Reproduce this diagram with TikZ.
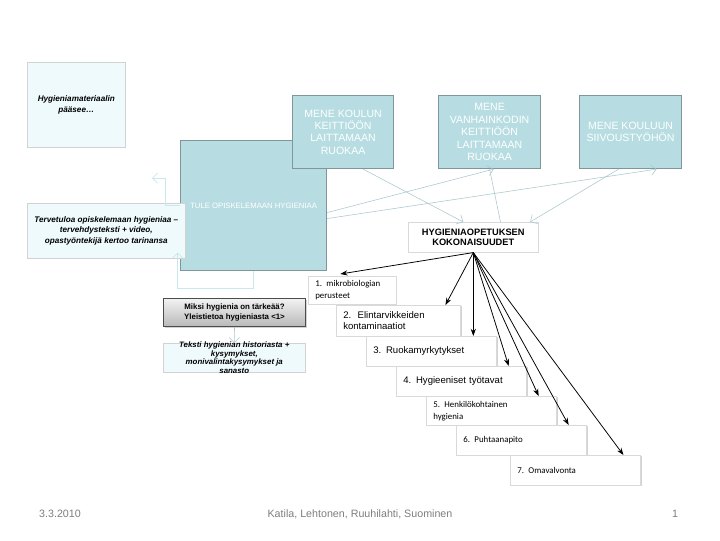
\documentclass[tikz,border=0pt]{standalone}
\usepackage{fontspec}
\setmainfont{Liberation Sans}
\newfontfamily\calibri{Carlito}
\usepackage{xcolor}
\definecolor{tealfill}{RGB}{183,221,226}
\definecolor{tealedge}{RGB}{128,150,155}
\definecolor{palefill}{RGB}{238,250,252}
\definecolor{linkgray}{RGB}{170,200,205}
\definecolor{linkpale}{RGB}{200,232,237}
\definecolor{footgray}{RGB}{125,125,125}
\usetikzlibrary{arrows.meta, positioning, shadows}
\tikzset{
  taskbox/.style={
    rectangle, draw=tealedge, line width=0.8pt, fill=tealfill,
    text=white, align=center, anchor=north west, inner sep=1pt,
    font=\fontsize{7.5}{8.8}\selectfont,
    drop shadow={shadow xshift=0.6pt, shadow yshift=-0.6pt, opacity=0.3}},
  notebox/.style={
    rectangle, draw=gray!35, fill=palefill, align=center,
    anchor=north west, inner sep=1pt,
    font=\fontsize{5.8}{7.6}\selectfont\bfseries\itshape,
    drop shadow={shadow xshift=0.8pt, shadow yshift=-0.8pt, opacity=0.3}},
  whybox/.style={
    rectangle, draw=black!70, line width=0.7pt, top color=gray!10,
    bottom color=gray!55, align=center, anchor=north west,
    font=\fontsize{5.6}{7.2}\selectfont\bfseries,
    drop shadow={shadow xshift=0.8pt, shadow yshift=-0.8pt, opacity=0.35}},
  setbox/.style={
    rectangle, draw=gray!30, fill=white, align=center,
    anchor=north west, inner sep=1pt,
    font=\fontsize{6.6}{7.8}\selectfont\bfseries,
    drop shadow={shadow xshift=0.8pt, shadow yshift=-0.8pt, opacity=0.35}},
  itembox/.style={
    rectangle, draw=gray!30, fill=white, align=left,
    anchor=north west, inner xsep=5pt, inner ysep=1pt,
    font=\fontsize{6.8}{8.2}\selectfont,
    drop shadow={shadow xshift=0.8pt, shadow yshift=-0.8pt, opacity=0.35}},
  cbitem/.style={itembox, font=\calibri\fontsize{6.3}{8.4}\selectfont},
  footer/.style={font=\fontsize{7.6}{9}\selectfont, text=footgray},
  arr/.style={-{Stealth[length=1.8mm, width=1.3mm]}, line width=0.55pt, black},
  linkarr/.style={-{Straight Barb[length=1.3mm]}, line width=0.4pt, linkgray},
  linkline/.style={line width=0.4pt, linkgray},
  palearr/.style={-{Straight Barb[length=1.3mm]}, line width=0.5pt, linkpale},
}

\begin{document}
\begin{tikzpicture}[x=0.025cm, y=-0.025cm]
  \useasboundingbox (0,0) rectangle (720,540);
  % concept boxes
  \node[taskbox, minimum width=3.65cm, minimum height=3.25cm,
        font=\fontsize{5.5}{6.5}\selectfont] (tule) at (180,140)
    {TULE OPISKELEMAAN HYGIENIAA};
  \node[taskbox, minimum width=2.525cm, minimum height=1.825cm] (koulu) at (292,95)
    {MENE KOULUN\\KEITTIÖÖN\\LAITTAMAAN\\RUOKAA};
  \node[taskbox, minimum width=2.55cm, minimum height=1.825cm] (vanhain) at (438,95)
    {MENE\\VANHAINKODIN\\KEITTIÖÖN\\LAITTAMAAN\\RUOKAA};
  \node[taskbox, minimum width=2.55cm, minimum height=1.825cm] (siivous) at (579,95)
    {MENE KOULUUN\\SIIVOUSTYÖHÖN};
  \node[notebox, minimum width=2.45cm, minimum height=2.125cm] (aim) at (27,62)
    {Hygieniamateriaalin\\pääsee…};
  \node[notebox, minimum width=3.95cm, minimum height=1.375cm] (welcome) at (27,203)
    {Tervetuloa opiskelemaan hygieniaa –\\tervehdysteksti + video,\\
     opastyöntekijä kertoo tarinansa};
  \node[whybox, minimum width=3.55cm, minimum height=0.7cm] (why) at (163,298)
    {Miksi hygienia on tärkeää?\\Yleistietoa hygieniasta <1>};
  \node[notebox, minimum width=3.55cm, minimum height=0.725cm, inner ysep=-2pt,
        font=\fontsize{5.6}{6.1}\selectfont\bfseries\itshape] (hist) at (163,343)
    {Teksti hygienian historiasta +\\kysymykset,\\
     monivalintakysymykset ja\\sanasto};
  \node[setbox, minimum width=3.25cm, minimum height=0.75cm] (sets) at (408,222)
    {HYGIENIAOPETUKSEN\\KOKONAISUUDET};
  % the seven parts
  \node[cbitem, text width=1.85cm, minimum height=0.7cm] (item1) at (308,276)
    {1. mikrobiologian\\perusteet};
  \node[itembox, text width=2.75cm, minimum height=0.775cm] (item2) at (336,305)
    {2.\ \ Elintarvikkeiden\\kontaminaatiot};
  \node[itembox, text width=2.9cm, minimum height=0.75cm] (item3) at (366,336)
    {3. Ruokamyrkytykset};
  \node[itembox, text width=2.9cm, minimum height=0.75cm] (item4) at (396,366)
    {4. Hygieeniset työtavat};
  \node[cbitem, text width=2.9cm, minimum height=0.725cm] (item5) at (426,396)
    {5. Henkilökohtainen\\hygienia};
  \node[cbitem, text width=2.9cm, minimum height=0.75cm] (item6) at (456,425)
    {6. Puhtaanapito};
  \node[cbitem, text width=2.9cm, minimum height=0.75cm] (item7) at (510,455)
    {7. Omavalvonta};
  % light connectors
  \draw[linkarr] ([xshift=0.5cm]koulu.south) -- ([xshift=-0.25cm]sets.north);
  \draw[linkline] (vanhain.south) -- ([xshift=0.68cm]sets.north);
  \draw[linkarr] ([xshift=-0.3cm]siivous.south) -- ([xshift=1.42cm]sets.north);
  \draw[linkarr] ([yshift=-0.175cm]tule.east) -- ([xshift=0.1cm]vanhain.south);
  \draw[linkarr] ([yshift=-0.325cm]tule.east) -- ([xshift=0.65cm]siivous.south);
  \coordinate (upend) at (152,178);
  \draw[palearr] (tule.west) -- ++(-0.375cm,0) |- (upend);
  \draw[palearr] (tule.south) -- ++(0,-0.425cm)
    -| ([xshift=-0.2cm, yshift=0.15cm]welcome.south east);
  \draw[linkarr] (why.south) -- (hist.north);
  % black arrows to the parts
  \draw[arr] (sets.south) -- ([xshift=-0.3cm, yshift=0.05cm]item1.north);
  \draw[arr] (sets.south) -- ([xshift=-0.38cm]item2.north east);
  \draw[arr] (sets.south) -- (sets.south |- item3.north);
  \draw[arr] (sets.south) -- ([xshift=-0.45cm]item4.north east);
  \draw[arr] (sets.south) -- ([xshift=-0.45cm]item5.north east);
  \draw[arr] (sets.south) -- ([xshift=-0.45cm]item6.north east);
  \draw[arr] (sets.south) -- ([xshift=-0.43cm]item7.north east);
  % footer
  \node[footer] (date) at (60,514) {3.3.2010};
  \node[footer] (authors) at (360,514) {Katila, Lehtonen, Ruuhilahti, Suominen};
  \node[footer] (page) at (675,514) {1};
\end{tikzpicture}
\end{document}
